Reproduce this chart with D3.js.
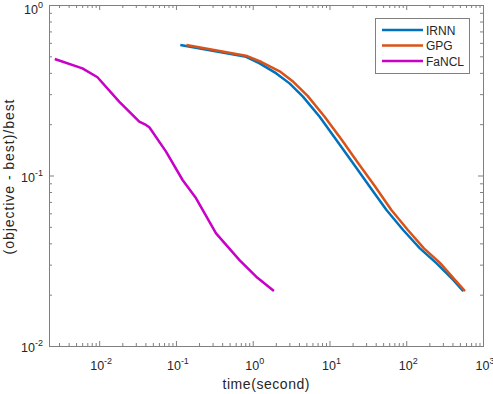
<!DOCTYPE html>
<html>
<head>
<meta charset="utf-8">
<script src="https://cdn.jsdelivr.net/npm/d3@7"></script>
<style>
  body { margin: 0; background: #fff; }
  svg text { font-family: "Liberation Sans", Arial, sans-serif; fill: #262626; }
</style>
</head>
<body>
<div id="chart"></div>
<script>
// data
var fanclTime = [0.00264, 0.00605, 0.0095, 0.0182, 0.0333, 0.0407, 0.045, 0.0743, 0.122, 0.183, 0.333, 0.673, 1.11, 1.89];
var fanclVal  = [0.482, 0.425, 0.377, 0.271, 0.207, 0.198, 0.192, 0.138, 0.0941, 0.0735, 0.0458, 0.0319, 0.0255, 0.021];

var irnnTime = [0.114, 0.822, 1.23, 2.03, 3.02, 4.51, 7.45, 12.3, 20.3, 33.5, 55.3, 91.2, 150.7, 249, 409, 553];
var irnnVal  = [0.582, 0.497, 0.455, 0.397, 0.347, 0.290, 0.221, 0.1616, 0.118, 0.0859, 0.0628, 0.0479, 0.0374, 0.0305, 0.0244, 0.0210];

var gpgTime = [0.137, 0.848, 1.30, 2.31, 3.41, 5.19, 8.65, 14.5, 23.7, 38.9, 64.0, 105, 170, 275, 431, 582];
var gpgVal  = [0.582, 0.502, 0.463, 0.405, 0.353, 0.293, 0.221, 0.1616, 0.118, 0.0868, 0.0628, 0.0479, 0.0374, 0.0307, 0.0244, 0.0210];

var seriesNames = ['IRNN', 'GPG', 'FaNCL'];
var seriesColors = ['#0072bd', '#d95319', '#c800c8'];
var xDecades = [-2, -1, 0, 1, 2, 3];
var yDecades = [-2, -1, 0];

var width = 493, height = 394;
var pLeft = 49, pRight = 483, pTop = 5, pBottom = 346;

var svg = d3.select('#chart').append('svg')
    .attr('width', width)
    .attr('height', height);

var x = d3.scaleLog().domain([0.00222, 1000]).range([pLeft, pRight]);
var y = d3.scaleLog().domain([0.01, 1]).range([pBottom, pTop]);

function minors(lo, hi) {
    var out = [];
    for (var e = lo; e < hi; e++)
        for (var m = 2; m <= 9; m++) out.push(m * Math.pow(10, e));
    return out;
}
var xMinor = minors(-3, 3).filter(function(v){ return v >= x.domain()[0] && v <= 1000; });
var yMinor = minors(-2, 0);
var xMajor = xDecades.map(function(e){ return Math.pow(10, e); });
var yMajor = yDecades.map(function(e){ return Math.pow(10, e); });

var axisColor = '#808080';

function styleAxis(g) {
    g.selectAll('path.domain').attr('stroke', axisColor).attr('stroke-width', 1);
    g.selectAll('line').attr('stroke', axisColor).attr('stroke-width', 1);
    g.selectAll('text').remove();
}

// bottom / top
[[d3.axisBottom, pBottom], [d3.axisTop, pTop]].forEach(function(a){
    svg.append('g').attr('transform', 'translate(0,' + a[1] + ')')
        .call(a[0](x).tickValues(xMajor).tickSize(-5).tickFormat(''))
        .call(styleAxis);
    svg.append('g').attr('transform', 'translate(0,' + a[1] + ')')
        .call(a[0](x).tickValues(xMinor).tickSize(-3).tickFormat(''))
        .call(styleAxis);
});
// left / right
[[d3.axisLeft, pLeft], [d3.axisRight, pRight]].forEach(function(a){
    svg.append('g').attr('transform', 'translate(' + a[1] + ',0)')
        .call(a[0](y).tickValues(yMajor).tickSize(-5).tickFormat(''))
        .call(styleAxis);
    svg.append('g').attr('transform', 'translate(' + a[1] + ',0)')
        .call(a[0](y).tickValues(yMinor).tickSize(-3).tickFormat(''))
        .call(styleAxis);
});

// tick labels with superscripts
svg.selectAll('.xlab')
    .data(xDecades)
    .enter()
    .append('text')
    .attr('class', 'xlab')
    .attr('x', function(d){ return x(Math.pow(10, d)) + 2; })
    .attr('y', 370)
    .attr('text-anchor', 'middle')
    .attr('font-size', '12.5px')
    .each(function(d){
        var t = d3.select(this);
        t.append('tspan').text('10');
        t.append('tspan').attr('dy', -6).attr('font-size', '9px').text(d < 0 ? '-' + (-d) : d);
    });

svg.selectAll('.ylab')
    .data(yDecades)
    .enter()
    .append('text')
    .attr('class', 'ylab')
    .attr('x', 43)
    .attr('y', function(d){ return Math.max(y(Math.pow(10, d)) + 6, 13.5); })
    .attr('text-anchor', 'end')
    .attr('font-size', '12.5px')
    .each(function(d){
        var t = d3.select(this);
        t.append('tspan').text('10');
        t.append('tspan').attr('dy', -6).attr('font-size', '9px').text(d < 0 ? '-' + (-d) : d);
    });

svg.append('text')
    .attr('x', 266)
    .attr('y', 389)
    .attr('text-anchor', 'middle')
    .attr('font-size', '14px')
    .attr('textLength', 87)
    .attr('lengthAdjust', 'spacing')
    .text('time(second)');

svg.append('text')
    .attr('transform', 'translate(14,177) rotate(-90)')
    .attr('text-anchor', 'middle')
    .attr('font-size', '14px')
    .attr('textLength', 155)
    .attr('lengthAdjust', 'spacing')
    .text('(objective - best)/best');

var line = d3.line()
    .x(function(d){ return x(d[0]); })
    .y(function(d){ return y(d[1]); });

var series = [
    d3.zip(irnnTime, irnnVal),
    d3.zip(gpgTime, gpgVal),
    d3.zip(fanclTime, fanclVal)
];

svg.selectAll('path.series')
    .data(series)
    .enter()
    .append('path')
    .attr('class', 'series')
    .attr('d', line)
    .attr('fill', 'none')
    .attr('stroke', function(d, i){ return seriesColors[i]; })
    .attr('stroke-width', 2.5)
    .attr('stroke-linejoin', 'round');

// legend
var lg = svg.append('g');
lg.append('rect')
    .attr('x', 375.5).attr('y', 18.5)
    .attr('width', 94).attr('height', 55)
    .attr('fill', '#fff')
    .attr('stroke', axisColor);

var legendY = [30, 45.5, 61];
lg.selectAll('line')
    .data(seriesNames)
    .enter()
    .append('line')
    .attr('x1', 382).attr('x2', 423)
    .attr('y1', function(d, i){ return legendY[i]; })
    .attr('y2', function(d, i){ return legendY[i]; })
    .attr('stroke', function(d, i){ return seriesColors[i]; })
    .attr('stroke-width', 2.5);

lg.selectAll('text')
    .data(seriesNames)
    .enter()
    .append('text')
    .attr('x', 426)
    .attr('y', function(d, i){ return legendY[i] + 4.5; })
    .attr('font-size', '12px')
    .text(function(d){ return d; });
</script>
</body>
</html>
